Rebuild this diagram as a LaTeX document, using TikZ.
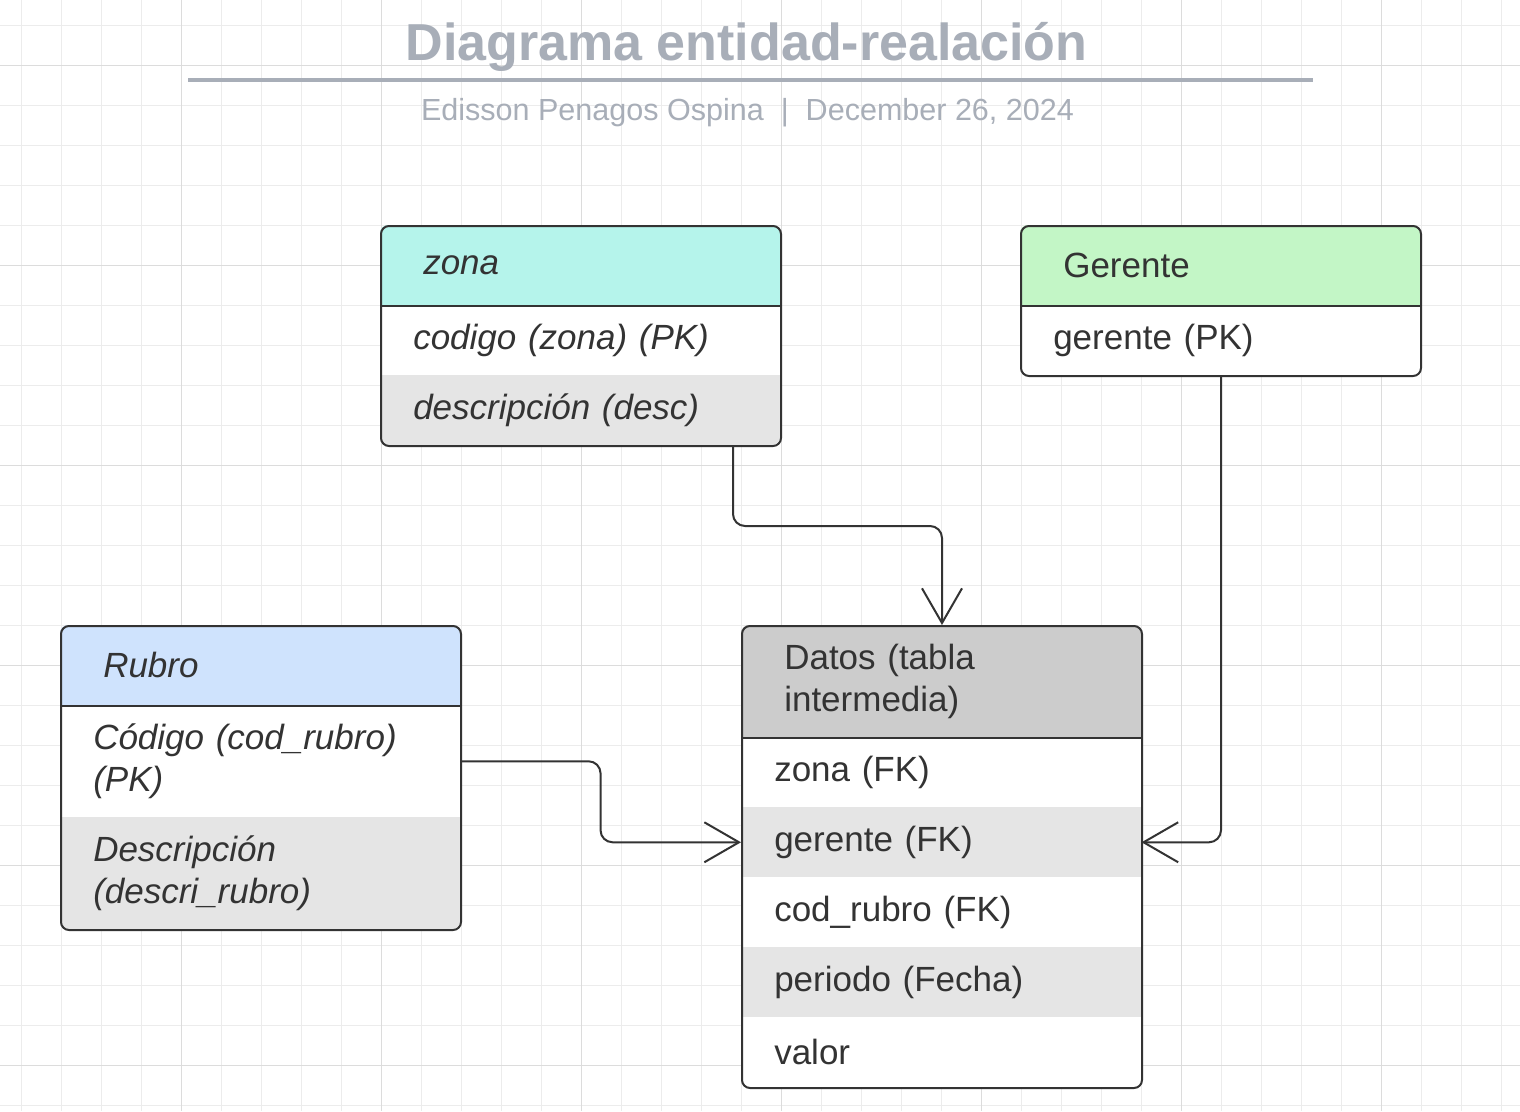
\documentclass[tikz,border=0pt]{standalone}
\usepackage{fontspec}
\setmainfont{Liberation Sans}
\usetikzlibrary{arrows.meta,calc}
\definecolor{txt}{HTML}{333333}
\definecolor{ttl}{HTML}{A8AEB8}
\definecolor{gridminor}{HTML}{ECECEC}
\definecolor{gridmajor}{HTML}{DCDCDC}
\definecolor{zonac}{HTML}{B5F4EB}
\definecolor{gerc}{HTML}{C3F6C6}
\definecolor{rubc}{HTML}{CFE3FD}
\definecolor{datc}{HTML}{CCCCCC}
\definecolor{altc}{HTML}{E5E5E5}
\newcommand{\bodyfont}{\fontsize{26.25pt}{31.5pt}\selectfont}
\tikzset{
  cell/.style={anchor=north west, inner ysep=0pt, inner xsep=24.75pt,
    text width=250.5pt, align=left, font=\bodyfont, text=txt},
  hcell/.style={cell, inner xsep=32.25pt, text width=235.5pt},
  frame/.style={anchor=north west, draw=txt, line width=1.5pt,
    rounded corners=6pt, minimum width=300pt, inner sep=0pt},
  sepline/.style={draw=txt, line width=1.5pt},
  conn/.style={draw=txt, line width=1.5pt, rounded corners=9pt,
    -{Straight Barb[length=26pt,width=30pt]}},
}
\begin{document}
\begin{tikzpicture}[x=0.75pt,y=-0.75pt]
\useasboundingbox (0,0) rectangle (1520,1111);
\fill[white] (0,0) rectangle (1520,1111);
% grid
\foreach \i in {0,...,37} \draw[gridminor,line width=0.75pt] (21+40*\i,0) -- (21+40*\i,1111);
\foreach \j in {0,...,27} \draw[gridminor,line width=0.75pt] (0,25+40*\j) -- (1520,25+40*\j);
\foreach \i in {0,...,6} \draw[gridmajor,line width=0.75pt] (181+200*\i,0) -- (181+200*\i,1111);
\foreach \j in {0,...,5} \draw[gridmajor,line width=0.75pt] (0,65+200*\j) -- (1520,65+200*\j);

% title
\node[anchor=base, text=ttl, font=\fontsize{39pt}{46pt}\selectfont\bfseries, inner sep=0pt] (title) at (746.5,60) {Diagrama entidad-realación};
\coordinate (tl) at (188,79.5);
\coordinate (tr) at (1313,79.5);
\draw[ttl, line width=3pt] (tl) -- (tr);
\node[anchor=base, text=ttl, font=\fontsize{22.9pt}{27pt}\selectfont, inner sep=0pt] (subtitle) at (747.5,120.5) {Edisson Penagos Ospina~~|~~December 26, 2024};

% zona
\begin{scope}
\clip[rounded corners=6pt] (380,225) rectangle (780,445);
\node[hcell, fill=zonac, minimum height=60pt] (zH) at (380,225) {\itshape zona};
\node[cell, fill=white, minimum height=52.5pt] (zCod) at (380,305) {\itshape codigo (zona) (PK)};
\node[cell, fill=altc, minimum height=52.5pt] (zDesc) at (380,375) {\itshape descripción (desc)};
\end{scope}
\node[frame, minimum height=165pt] (zona) at (380,225) {};
\draw[sepline] (zH.south west) -- (zH.south east);

% Gerente
\begin{scope}
\clip[rounded corners=6pt] (1020,225) rectangle (1420,375);
\node[hcell, fill=gerc, minimum height=60pt] (gH) at (1020,225) {Gerente};
\node[cell, fill=white, minimum height=52.5pt] (gPK) at (1020,305) {gerente (PK)};
\end{scope}
\node[frame, minimum height=112.5pt] (gerente) at (1020,225) {};
\draw[sepline] (gH.south west) -- (gH.south east);

% Rubro
\begin{scope}
\clip[rounded corners=6pt] (60,625) rectangle (460,929);
\node[hcell, fill=rubc, minimum height=60pt] (rH) at (60,625) {\itshape Rubro};
\node[cell, fill=white, minimum height=84pt] (rCod) at (60,705) {\itshape Código (cod\_rubro)\\(PK)};
\node[cell, fill=altc, minimum height=84pt] (rDesc) at (60,817) {\itshape Descripción\\(descri\_rubro)};
\end{scope}
\node[frame, minimum height=228pt] (rubro) at (60,625) {};
\draw[sepline] (rH.south west) -- (rH.south east);

% Datos
\begin{scope}
\clip[rounded corners=6pt] (741,625) rectangle (1141,1087);
\node[hcell, fill=datc, minimum height=84pt] (dH) at (741,625) {Datos (tabla\\intermedia)};
\node[cell, fill=white, minimum height=52.5pt] (dZona) at (741,737) {zona (FK)};
\node[cell, fill=altc, minimum height=52.5pt] (dGer) at (741,807) {gerente (FK)};
\node[cell, fill=white, minimum height=52.5pt] (dRub) at (741,877) {cod\_rubro (FK)};
\node[cell, fill=altc, minimum height=52.5pt] (dPer) at (741,947) {periodo (Fecha)};
\node[cell, fill=white, minimum height=52.5pt] (dVal) at (741,1017) {valor};
\end{scope}
\node[frame, minimum height=346.5pt] (datos) at (741,625) {};
\draw[sepline] (dH.south west) -- (dH.south east);

% connectors
\draw[conn] ($(zona.south)+(152,0)$) -- ++(0,79) -| (datos.north);
\draw[conn] (gerente.south) |- (dGer.east);
\draw[conn] (rCod.east) -- ++(140,0) |- (dGer.west);
\end{tikzpicture}
\end{document}
